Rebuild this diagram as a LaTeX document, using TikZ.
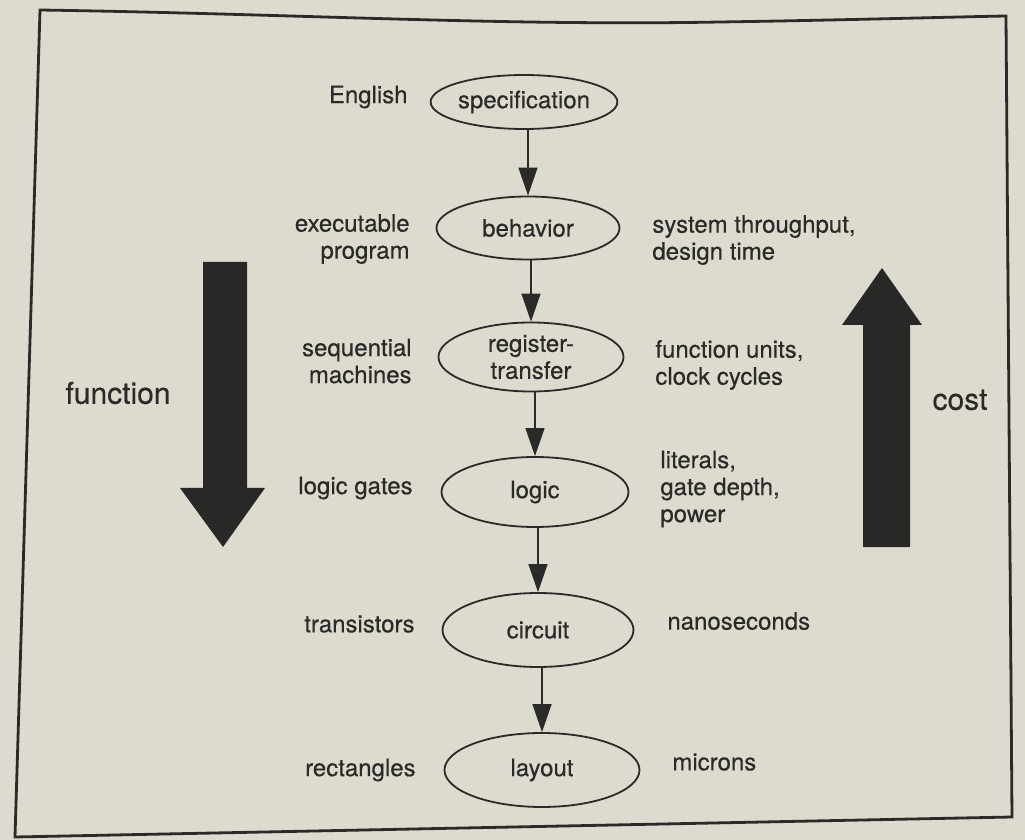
\documentclass[tikz,border=0pt]{standalone}
\usepackage{fontspec}
\setmainfont{TeX Gyre Heros}[FakeBold=0.4]
\usetikzlibrary{shapes.geometric,arrows.meta}
\definecolor{paper}{RGB}{221,219,208}
\definecolor{ink}{RGB}{42,42,40}
\definecolor{bigink}{RGB}{40,40,39}
\tikzset{
  level/.style={ellipse, draw=ink, line width=0.9pt, inner sep=0pt, text=ink,
    align=center, font=\fontsize{12}{13.5}\selectfont},
  leftlab/.style={anchor=east, align=right, text=ink, inner sep=0pt,
    font=\fontsize{12}{13.5}\selectfont},
  rightlab/.style={anchor=west, align=left, text=ink, inner sep=0pt,
    font=\fontsize{12}{13.5}\selectfont},
  axislab/.style={text=ink, inner sep=0pt, font=\fontsize{15}{17}\selectfont},
  flow/.style={draw=ink, line width=0.65pt, -{Triangle[length=14pt,width=9.5pt]}},
  bigarrow/.style={fill=bigink, draw=none}
}
\begin{document}
\begin{tikzpicture}[x=0.5pt, y=-0.5pt]
  % page background and outer frame
  \fill[paper] (0,0) rectangle (1025,840);
  \useasboundingbox (0,0) rectangle (1025,840);
  \draw[ink, line width=1.4pt, line join=miter]
    (40,10) .. controls (300,14) and (500,26) .. (720,22)
    .. controls (850,20) and (950,17) .. (1006,16)
    -- (1012,817) -- (15,837) -- cycle;

  % abstraction levels
  \node[level, minimum width=86pt, minimum height=27pt] (spec) at (524,102) {specification};
  \node[level, minimum width=91.5pt, minimum height=31.5pt] (beh) at (528,228) {behavior};
  \node[level, minimum width=92.5pt, minimum height=34.5pt] (rt) at (531,357) {register-\\transfer};
  \node[level, minimum width=93.5pt, minimum height=35pt] (logic) at (535,492) {logic};
  \node[level, minimum width=95.5pt, minimum height=37pt] (circ) at (538,630) {circuit};
  \node[level, minimum width=97.5pt, minimum height=37pt] (lay) at (542,770) {layout};

  % vertical connectors between successive levels
  \draw[flow] (spec.south -| beh.north) -- (beh.north);
  \draw[flow] (beh.south -| rt.north) -- (rt.north);
  \draw[flow] (rt.south -| logic.north) -- (logic.north);
  \draw[flow] (logic.south -| circ.north) -- (circ.north);
  \draw[flow] (circ.south -| lay.north) -- (lay.north);

  % representations
  \node[leftlab] (l1) at (408,97) {English};
  \node[leftlab] (l2) at (410,239) {executable\\program};
  \node[leftlab] (l3) at (412,361) {sequential\\machines};
  \node[leftlab] (l4) at (413,488) {logic gates};
  \node[leftlab] (l5) at (415,624) {transistors};
  \node[leftlab] (l6) at (416,770) {rectangles};

  % figures of merit
  \node[rightlab] (r2) at (652,240) {system throughput,\\design time};
  \node[rightlab] (r3) at (655,365) {function units,\\clock cycles};
  \node[rightlab] (r4) at (660,489) {literals,\\gate depth,\\power};
  \node[rightlab] (r5) at (667,621) {nanoseconds};
  \node[rightlab] (r6) at (672,762) {microns};

  % function axis (downward) and cost axis (upward)
  \fill[bigarrow] (203,262) -- (247,262) -- (247,488) -- (265,488)
    -- (223,547) -- (180,488) -- (203,488) -- cycle;
  \fill[bigarrow] (863,547) -- (910,547) -- (910,325) -- (922,325)
    -- (882,268) -- (842,325) -- (863,325) -- cycle;
  \node[axislab] (func) at (118,393) {function};
  \node[axislab] (cost) at (960,400) {cost};
\end{tikzpicture}
\end{document}
